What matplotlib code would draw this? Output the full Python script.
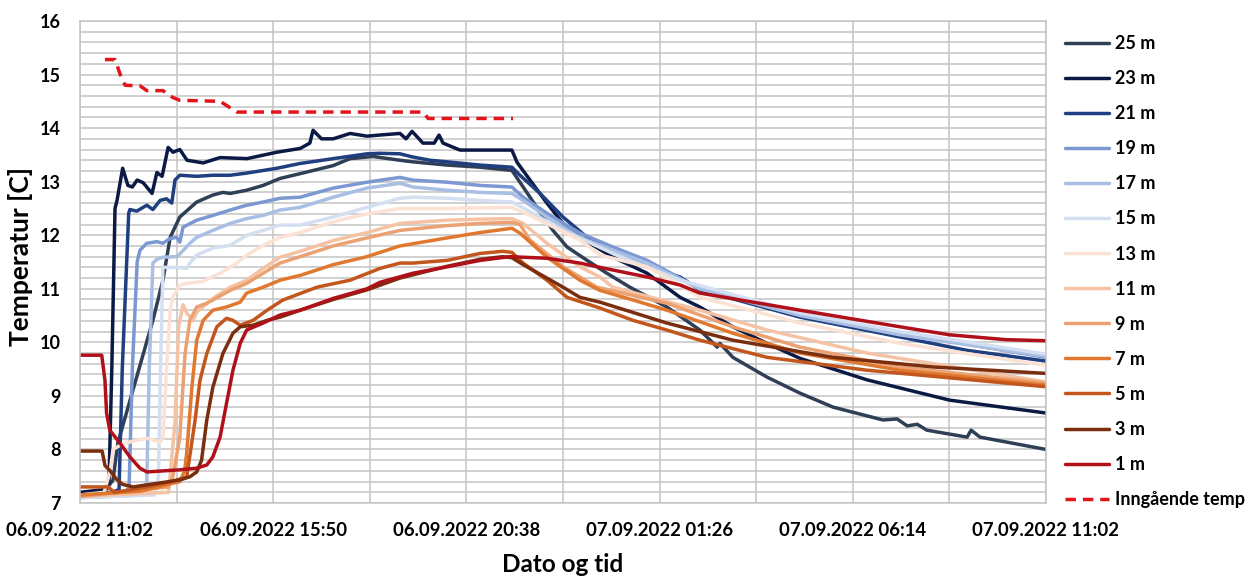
import matplotlib
matplotlib.use("Agg")
import matplotlib.pyplot as plt
import numpy as np

plt.rcParams['font.family'] = ['Lato', 'DejaVu Sans']

# timer etter 06.09.2022 11:02
tick_labels = ['06.09.2022 11:02', '06.09.2022 15:50', '06.09.2022 20:38',
               '07.09.2022 01:26', '07.09.2022 06:14', '07.09.2022 11:02']

t25 = [0, 0.6, 0.82, 0.94, 1.81, 2.06, 2.24, 2.48, 2.9, 3.3, 3.55, 3.73, 4.14, 4.55, 4.97, 5.47, 6.29, 6.71, 7.28, 7.95, 8.27, 9.12, 9.94, 10.73,
       10.93, 11.35, 11.75, 12.10, 12.60, 13.09, 13.66, 14.58, 15.40, 15.83, 15.9, 16.22, 17.07, 17.89, 18.71, 19.95, 20.30, 20.55, 20.80, 21.04,
       22.04, 22.14, 22.36, 24.0]
T25 = [7.15, 7.2, 7.43, 8.12, 10.41, 11.16, 11.96, 12.34, 12.62, 12.75, 12.8, 12.78, 12.84, 12.93, 13.06, 13.15, 13.3, 13.43, 13.47, 13.4, 13.37, 13.31, 13.27, 13.21,
       12.99, 12.52, 12.09, 11.78, 11.53, 11.29, 11.03, 10.66, 10.23, 9.91, 9.98, 9.72, 9.35, 9.05, 8.79, 8.55, 8.57, 8.44, 8.47, 8.36,
       8.23, 8.36, 8.23, 8.0]

t23 = [0, 0.6, 0.72, 0.79, 0.87, 0.92, 1.06, 1.19, 1.3, 1.42, 1.57, 1.79, 1.91, 2.04, 2.19, 2.31, 2.48, 2.66, 3.06, 3.48, 4.15, 4.89, 5.47, 5.71, 5.79, 6.0,
       6.29, 6.71, 7.13, 7.6, 7.95, 8.1, 8.25, 8.52, 8.8, 8.92, 9.02, 9.44, 9.94, 10.73, 10.86, 11.18, 11.6, 12.0, 12.42, 13.24, 14.09, 14.91, 15.40,
       16.22, 17.07, 17.89, 19.55, 21.61, 24.0]
T23 = [7.2, 7.25, 7.4, 9.5, 12.5, 12.65, 13.25, 12.93, 12.9, 13.03, 12.98, 12.78, 13.17, 13.1, 13.64, 13.55, 13.6, 13.4, 13.35, 13.45, 13.43, 13.55, 13.62, 13.72, 13.96, 13.8,
       13.8, 13.9, 13.85, 13.88, 13.9, 13.8, 13.94, 13.72, 13.72, 13.87, 13.72, 13.59, 13.59, 13.59, 13.36, 13.03, 12.6, 12.22, 11.96, 11.59, 11.29, 10.84, 10.66,
       10.29, 9.98, 9.7, 9.3, 8.92, 8.68]

t21 = [0, 0.8, 0.97, 1.05, 1.21, 1.24, 1.41, 1.66, 1.81, 1.99, 2.15, 2.28, 2.36, 2.48, 2.90, 3.30, 3.73, 4.14, 4.89, 5.47, 6.29, 7.13, 7.45, 7.95,
       8.27, 8.70, 9.12, 9.94, 10.73, 10.93, 11.43, 12.0, 12.60, 13.24, 14.09, 14.91, 15.40, 17.89, 20.37, 22.04, 24.0]
T21 = [7.15, 7.2, 7.25, 9.5, 12.41, 12.48, 12.45, 12.56, 12.48, 12.65, 12.68, 12.6, 13.03, 13.12, 13.1, 13.12, 13.12, 13.16, 13.25, 13.34, 13.43, 13.52, 13.53, 13.52,
       13.46, 13.4, 13.37, 13.31, 13.27, 13.12, 12.78, 12.34, 11.96, 11.68, 11.41, 11.22, 10.98, 10.47, 10.1, 9.85, 9.65]

t19 = [0, 1.1, 1.22, 1.3, 1.42, 1.49, 1.66, 1.91, 2.06, 2.24, 2.40, 2.48, 2.56, 2.90, 3.30, 3.73, 4.14, 4.55, 4.97, 5.47, 6.29, 7.13, 7.95, 8.27,
       9.12, 9.94, 10.73, 11.01, 11.60, 12.42, 13.24, 14.09, 15.40, 17.89, 20.37, 24.0]
T19 = [7.1, 7.15, 7.3, 9.5, 11.5, 11.72, 11.85, 11.88, 11.85, 11.94, 11.96, 11.87, 12.15, 12.28, 12.37, 12.47, 12.56, 12.62, 12.69, 12.71, 12.88, 12.99, 13.08, 13.03,
       12.99, 12.93, 12.9, 12.71, 12.41, 12.04, 11.78, 11.53, 11.0, 10.54, 10.17, 9.72]

t17 = [0, 1.55, 1.66, 1.72, 1.81, 1.91, 2.06, 2.40, 2.48, 2.73, 2.90, 3.30, 3.73, 4.14, 4.55, 4.97, 5.47, 6.29, 7.13, 7.95, 8.27, 9.12, 9.94, 10.73,
       11.01, 11.60, 12.42, 13.24, 14.09, 15.40, 17.89, 20.37, 24.0]
T17 = [7.1, 7.15, 7.4, 9.5, 11.48, 11.55, 11.59, 11.6, 11.65, 11.85, 11.96, 12.09, 12.22, 12.31, 12.37, 12.47, 12.52, 12.71, 12.88, 12.97, 12.9, 12.84, 12.8, 12.78,
       12.65, 12.34, 11.96, 11.72, 11.48, 11.0, 10.5, 10.14, 9.74]

t15 = [0, 1.85, 1.95, 2.0, 2.06, 2.40, 2.65, 2.73, 2.90, 3.30, 3.73, 4.14, 4.55, 4.97, 5.47, 6.29, 7.13, 7.95, 8.27, 9.12, 9.94, 10.73,
       11.11, 12.0, 13.24, 14.91, 17.89, 20.37, 24.0]
T15 = [7.1, 7.15, 7.5, 9.5, 11.4, 11.4, 11.38, 11.48, 11.63, 11.76, 11.81, 12.0, 12.09, 12.19, 12.19, 12.34, 12.52, 12.69, 12.71, 12.69, 12.65, 12.62,
       12.47, 12.09, 11.66, 11.16, 10.55, 10.2, 9.78]

t13 = [0, 0.6, 0.75, 0.82, 1.0, 1.24, 1.66, 1.99, 2.06, 2.15, 2.24, 2.31, 2.48, 2.65, 3.06, 3.48, 3.9, 4.14, 4.55, 4.97, 5.47, 6.29, 7.13, 7.95,
       9.12, 10.73, 11.18, 12.42, 12.92, 14.09, 14.91, 15.40, 17.89, 20.37, 24.0]
T13 = [7.15, 7.2, 7.6, 8.0, 8.08, 8.14, 8.21, 8.14, 8.2, 9.5, 10.6, 10.85, 11.07, 11.1, 11.14, 11.29, 11.48, 11.63, 11.81, 11.96, 12.05, 12.25, 12.4, 12.5,
       12.5, 12.52, 12.37, 11.91, 11.63, 11.41, 11.07, 10.84, 10.36, 9.98, 9.57]

t11 = [0, 2.2, 2.36, 2.45, 2.56, 2.65, 2.81, 2.90, 3.30, 3.73, 4.14, 4.55, 4.97, 5.47, 6.29, 7.13, 7.95, 9.12, 9.94, 10.73,
       11.01, 11.60, 12.42, 12.92, 13.24, 15.40, 17.07, 19.55, 24.0]
T11 = [7.12, 7.2, 8.5, 10.3, 10.7, 10.55, 10.4, 10.56, 10.82, 11.03, 11.16, 11.38, 11.59, 11.7, 11.9, 12.05, 12.22, 12.28, 12.3, 12.31,
       12.22, 11.85, 11.41, 11.22, 11.03, 10.6, 10.23, 9.8, 9.26]

t9 = [0, 2.2, 2.31, 2.48, 2.61, 2.73, 2.90, 3.15, 3.30, 3.73, 4.14, 4.55, 4.97, 5.47, 6.29, 7.13, 7.95, 9.12, 9.94, 10.73,
      10.93, 11.18, 12.0, 12.84, 14.58, 16.22, 17.89, 20.37, 24.0]
T9 = [7.12, 7.3, 7.5, 8.23, 9.79, 10.41, 10.66, 10.73, 10.79, 10.97, 11.1, 11.29, 11.48, 11.6, 11.8, 11.95, 12.09, 12.18, 12.22, 12.24,
      12.2, 11.91, 11.41, 11.03, 10.73, 10.29, 9.91, 9.54, 9.24]

t7 = [0, 1.5, 2.48, 2.60, 2.65, 2.78, 2.90, 3.06, 3.30, 3.64, 3.98, 4.14, 4.55, 4.97, 5.47, 6.29, 7.13, 7.95, 9.12, 9.94,
      10.73, 10.93, 11.60, 12.42, 12.92, 13.74, 14.58, 16.22, 17.89, 20.37, 24.0]
T7 = [7.15, 7.22, 7.4, 7.6, 7.93, 9.16, 10.04, 10.41, 10.6, 10.66, 10.75, 10.92, 11.03, 11.16, 11.25, 11.45, 11.6, 11.8, 11.95, 12.05,
      12.13, 12.04, 11.59, 11.16, 10.97, 10.79, 10.6, 10.17, 9.8, 9.48, 9.2]

t5 = [0, 0.7, 0.85, 1.3, 2.0, 2.65, 2.86, 2.98, 3.15, 3.40, 3.64, 3.80, 3.98, 4.30, 4.65, 5.04, 5.89, 6.71, 7.45, 7.95,
      8.27, 9.12, 9.94, 10.5, 10.73, 11.01, 11.60, 12.10, 12.92, 13.74, 14.58, 15.40, 17.07, 19.55, 24.0]
T5 = [7.3, 7.3, 7.2, 7.25, 7.35, 7.48, 8.55, 9.29, 9.79, 10.29, 10.45, 10.41, 10.32, 10.41, 10.6, 10.79, 11.03, 11.16, 11.38, 11.48,
      11.48, 11.53, 11.66, 11.7, 11.68, 11.48, 11.16, 10.84, 10.64, 10.41, 10.23, 10.04, 9.72, 9.48, 9.17]

t3 = [0, 0.55, 0.62, 0.75, 0.9, 1.05, 1.32, 2.48, 2.73, 2.90, 3.02, 3.15, 3.30, 3.55, 3.80, 3.98, 4.30, 4.65, 4.97, 5.47,
      6.29, 7.13, 7.95, 9.12, 9.94, 10.5, 10.73, 11.01, 11.60, 12.0, 12.42, 12.92, 14.58, 16.22, 18.71, 21.19, 24.0]
T3 = [7.97, 7.97, 7.7, 7.6, 7.45, 7.35, 7.3, 7.43, 7.49, 7.58, 7.8, 8.55, 9.16, 9.79, 10.17, 10.29, 10.32, 10.41, 10.47, 10.6,
      10.8, 10.98, 11.2, 11.42, 11.55, 11.6, 11.58, 11.45, 11.2, 11.03, 10.84, 10.75, 10.36, 10.04, 9.72, 9.54, 9.42]

t1 = [0, 0.54, 0.62, 0.66, 0.74, 0.99, 1.24, 1.49, 1.66, 2.48, 2.90, 3.15, 3.30, 3.48, 3.64, 3.80, 3.98, 4.14, 4.55, 4.97,
      5.47, 6.29, 7.13, 7.45, 8.27, 9.12, 9.94, 10.68, 11.60, 12.42, 13.24, 14.09, 14.91, 15.40, 17.89, 20.37, 21.61, 23.0, 24.0]
T1 = [9.76, 9.76, 9.29, 8.68, 8.36, 8.12, 7.86, 7.65, 7.58, 7.62, 7.65, 7.71, 7.86, 8.23, 8.86, 9.48, 9.98, 10.23, 10.36, 10.51,
      10.6, 10.82, 11.0, 11.12, 11.29, 11.41, 11.53, 11.6, 11.57, 11.48, 11.35, 11.22, 11.07, 10.92, 10.6, 10.29, 10.14, 10.05, 10.03]

t_inn = [0.62, 0.87, 1.0, 1.12, 1.49, 1.66, 2.06, 2.31, 2.48, 3.48, 3.9, 8.52, 8.65, 10.76]
T_inn = [15.28, 15.28, 15.0, 14.8, 14.79, 14.7, 14.7, 14.57, 14.52, 14.5, 14.3, 14.3, 14.18, 14.18]

series = [
    ('25 m', t25, T25, '#2f3f55'),
    ('23 m', t23, T23, '#0b1a45'),
    ('21 m', t21, T21, '#1f3f80'),
    ('19 m', t19, T19, '#7c98d2'),
    ('17 m', t17, T17, '#a9bee3'),
    ('15 m', t15, T15, '#d4dff2'),
    ('13 m', t13, T13, '#fbe2d4'),
    ('11 m', t11, T11, '#f5c3a3'),
    ('9 m', t9, T9, '#eca172'),
    ('7 m', t7, T7, '#e0782f'),
    ('5 m', t5, T5, '#c2561c'),
    ('3 m', t3, T3, '#7a2e0e'),
    ('1 m', t1, T1, '#b0101a'),
]

fig = plt.figure(figsize=(12.58, 5.76), dpi=100)
ax = fig.add_axes([80 / 1258, 1 - 503 / 576, 966 / 1258, 482 / 576])

for name, t, T, c in series:
    ax.plot(t, T, color=c, lw=2.5, label=name, solid_capstyle='round')
ax.plot(t_inn, T_inn, color='#e3141b', lw=2.5, ls=(0, (3, 2)), label='Inngående temp')

ax.set_xlim(0, 24)
ax.set_ylim(7, 16)
ax.set_xticks(np.arange(0, 24.01, 4.8))
ax.set_xticklabels(tick_labels)
ax.set_xticks(np.arange(0, 24.01, 2.4), minor=True)
ax.set_yticks(np.arange(7, 16.01, 1))
ax.set_yticks(np.arange(7, 16.01, 0.2), minor=True)

ax.grid(True, which='both', color='#c4c4c4', lw=1.1)
ax.set_axisbelow(True)
ax.tick_params(which='both', length=0)
ax.tick_params(axis='y', pad=14, labelsize=13)
ax.tick_params(axis='x', pad=14, labelsize=13.3)
for lab in ax.get_xticklabels() + ax.get_yticklabels():
    lab.set_fontweight('bold')
for s in ax.spines.values():
    s.set_color('#c4c4c4')
    s.set_linewidth(1.1)

fig.text(21 / 1258, 1 - 256 / 576, 'Temperatur [C]', rotation=90, ha='center', va='center',
         fontsize=19, fontweight='bold')
fig.text(563 / 1258, 1 - 564 / 576, 'Dato og tid', ha='center', va='center',
         fontsize=17.5, fontweight='bold')

leg = fig.legend(loc='upper left', bbox_to_anchor=(1058 / 1258, 1 - 28 / 576), frameon=False,
                 prop={'weight': 'bold', 'size': 13}, labelspacing=1.0, handlelength=2.45,
                 handletextpad=0.3, borderaxespad=0)

fig.savefig('out.png', dpi=100)
